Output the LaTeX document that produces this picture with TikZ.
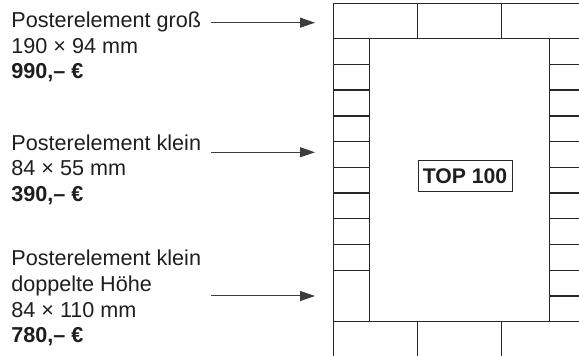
\documentclass[tikz,border=0pt]{standalone}
\usepackage{fontspec}
\setmainfont{Liberation Sans}
\usepackage{xcolor}
\usetikzlibrary{arrows.meta, positioning}
\definecolor{plangray}{RGB}{40, 40, 40}
\definecolor{arrowgray}{RGB}{60, 60, 60}
\definecolor{textgray}{RGB}{30, 30, 30}

\begin{document}
\begin{tikzpicture}[
    x=0.5pt, y=-0.5pt,
    cell/.style={
        rectangle,
        draw=plangray,
        line width=0.7pt,
        inner sep=0pt,
        anchor=north west
    },
    rowcell/.style={
        cell,
        minimum width=42pt,
        minimum height=17.5pt
    },
    colcell/.style={
        cell,
        minimum width=18pt,
        minimum height=12.864pt
    },
    info/.style={
        anchor=base west,
        align=left,
        inner sep=0pt,
        text=textgray,
        font=\fontsize{10.8pt}{12.9pt}\selectfont
    },
    pointer/.style={
        -{Triangle[length=7.5pt,width=5pt]},
        arrowgray,
        line width=0.5pt,
        shorten >=9pt
    },
    badge/.style={
        rectangle,
        draw=plangray,
        line width=0.5pt,
        inner sep=0pt,
        minimum width=47pt,
        minimum height=15.5pt,
        text=textgray,
        font=\fontsize{10.6pt}{12pt}\selectfont\bfseries
    }
]

% Picture frame
\useasboundingbox (0,0) rectangle (579,356);
\clip (0,0) rectangle (579,356);

% Top and bottom rows
\foreach \x [count=\i] in {333,417,501} {
    \node[rowcell] (top\i) at (\x,3) {};
    \node[rowcell] (bottom\i) at (\x,321) {};
}

% Left column, last cell double height
\foreach \i in {0,...,8} {
    \node[colcell] (left\i) at (333,38+25.727*\i) {};
}
\node[colcell, minimum height=25.727pt] (leftdouble) at (333,269.54) {};

% Right column
\foreach \i in {0,...,10} {
    \node[colcell] (right\i) at (549,38+25.727*\i) {};
}

% Centre label
\node[badge] (toplabel) at (465,176.5) {TOP 100};

% Price texts (anchored at the last line)
\node[info] (large) at (11,79) {Posterelement groß\\190 × 94 mm\\\textbf{990,– €}};
\node[info] (small) at (11,201.7) {Posterelement klein\\84 × 55 mm\\\textbf{390,– €}};
\node[info] (double) at (11,343) {Posterelement klein\\doppelte Höhe\\84 × 110 mm\\\textbf{780,– €}};

% Arrows
\coordinate (largestart) at (211,22.7);
\coordinate (smallstart) at (211,152.3);
\coordinate (doublestart) at (211,296);
\draw[pointer] (largestart) -- (largestart -| top1.west);
\draw[pointer] (smallstart) -- (smallstart -| left4.west);
\draw[pointer] (doublestart) -- (doublestart -| leftdouble.west);

\end{tikzpicture}
\end{document}
